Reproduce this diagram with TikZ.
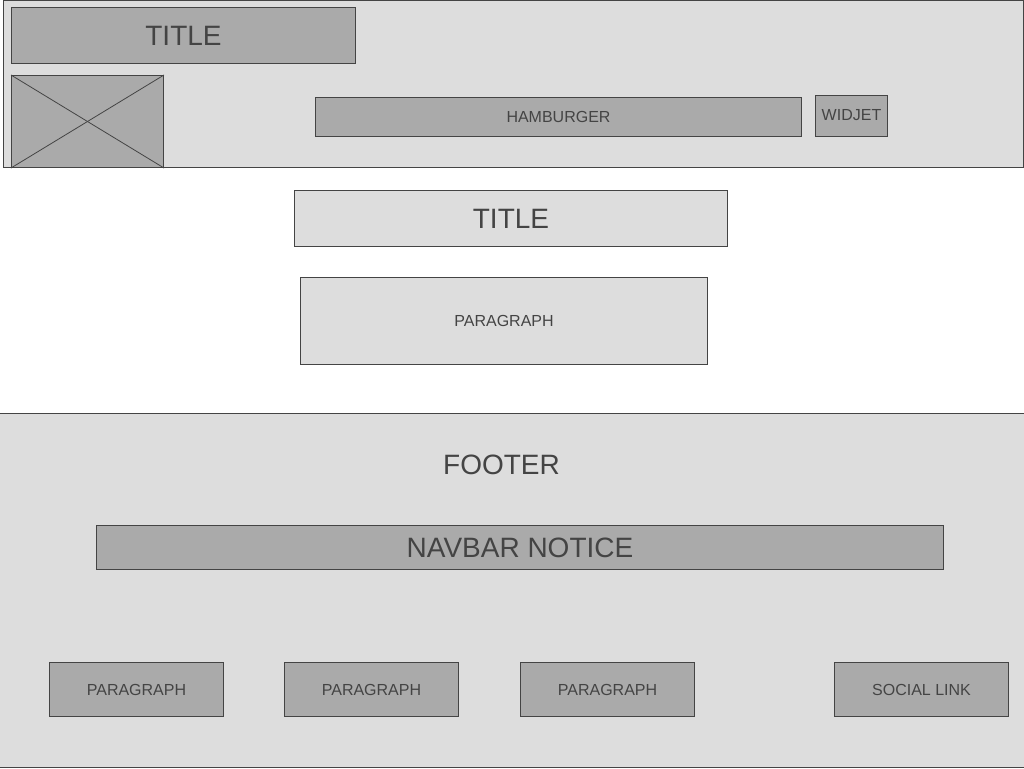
\documentclass[tikz,border=0pt]{standalone}
\usepackage{fontspec}
\setmainfont{Liberation Sans}
\definecolor{lightg}{HTML}{DDDDDD}
\definecolor{darkg}{HTML}{AAAAAA}
\definecolor{strokeg}{HTML}{444444}
\tikzset{
  panel/.style={draw=strokeg, fill=lightg, line width=1pt},
  darkbox/.style={draw=strokeg, fill=darkg, line width=1pt, inner sep=0pt, text=strokeg},
  lightbox/.style={draw=strokeg, fill=lightg, line width=1pt, inner sep=0pt, text=strokeg},
  big/.style={font=\fontsize{28}{32}\selectfont},
  small/.style={font=\fontsize{16}{19}\selectfont},
}
\newcommand{\boxat}[6]{% name, style, x1, y1, x2, y2
  \node[#2, minimum width={(#5-#3)*1pt}, minimum height={(#6-#4)*1pt}] (#1) at ({(#3+#5)/2*1pt},{-(#4+#6)/2*1pt}) {};}
\begin{document}
\begin{tikzpicture}[x=1pt,y=-1pt]
\useasboundingbox[fill=white] (0,0) rectangle (1024,768);
% header
\draw[panel] (3.5,0.5) rectangle (1023.5,167.5);
% footer
\draw[panel] (-2,413.5) rectangle (1026,767.5);

\node[darkbox, big, minimum width=344pt, minimum height=55pt] (title1) at (183.5,35.5) {TITLE};
\node[darkbox, minimum width=152pt, minimum height=92pt] (img) at (87.5,121.5) {};
\draw[strokeg, line width=0.8pt] (img.north west) -- (img.south east);
\draw[strokeg, line width=0.8pt] (img.south west) -- (img.north east);
\node[darkbox, small, minimum width=486pt, minimum height=39pt] (ham) at (558.5,116.5) {HAMBURGER};
\node[darkbox, small, minimum width=72pt, minimum height=41pt] (widjet) at (851.5,115.5) {WIDJET};

\node[lightbox, big, minimum width=433pt, minimum height=56pt] (title2) at (511,218.5) {TITLE};
\node[lightbox, small, minimum width=407pt, minimum height=87pt] (para) at (504,320.5) {PARAGRAPH};

\node[text=strokeg, big] (footer) at (501.5,464.5) {FOOTER};
\node[darkbox, big, minimum width=847pt, minimum height=44pt] (navbar) at (520,547.5) {NAVBAR NOTICE};

\node[darkbox, small, minimum width=174pt, minimum height=54pt] (p1) at (136.5,689.5) {PARAGRAPH};
\node[darkbox, small, minimum width=174pt, minimum height=54pt] (p2) at (371.5,689.5) {PARAGRAPH};
\node[darkbox, small, minimum width=174pt, minimum height=54pt] (p3) at (607.5,689.5) {PARAGRAPH};
\node[darkbox, small, minimum width=174pt, minimum height=54pt] (social) at (921.5,689.5) {SOCIAL LINK};
\end{tikzpicture}
\end{document}
